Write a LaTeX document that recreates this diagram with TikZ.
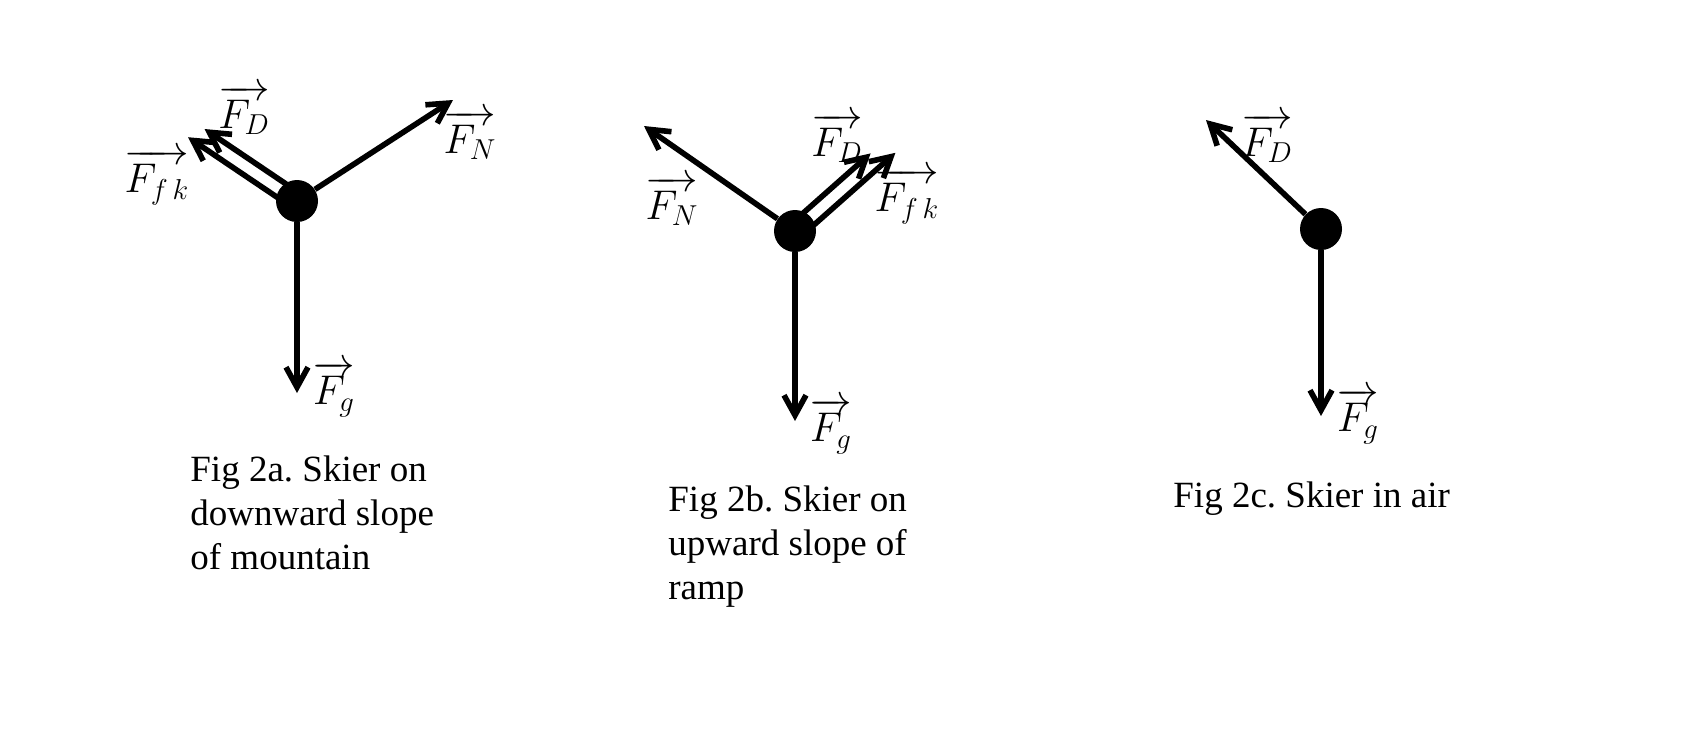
\documentclass[tikz,border=0pt]{standalone}
\usepackage{amsmath}
\usepackage{fontspec}
\newfontfamily\capfont{Liberation Serif}
\usetikzlibrary{arrows.meta}

\begin{document}
\begin{tikzpicture}[x=0.5pt,y=0.5pt,yscale=-1,
  force/.style={line width=2.8pt,-{Straight Barb[length=10pt,width=11pt]}},
  skier/.style={circle,fill=black,inner sep=0pt,minimum size=21pt},
  lbl/.style={inner sep=0pt,font=\huge},
  figcap/.style={anchor=base west,align=left,inner sep=0pt,font=\capfont\fontsize{18.5}{22}\selectfont\frenchspacing}]
\useasboundingbox (0,0) rectangle (1684,730);

% Fig 2a, downward slope
\node[skier] (dotA) at (297,201) {};
\coordinate (fgA) at (297,393);
\coordinate (fnA) at (453,100);
\coordinate (fdA0) at (301.5,194.4);
\coordinate (fdA) at (204.5,129);
\coordinate (ffkA0) at (292.5,207.6);
\coordinate (ffkA) at (188,137.2);
\node[lbl] (lfdA) at (244,110) {$\overrightarrow{F_D}$};
\node[lbl] (lffkA) at (157,177) {$\overrightarrow{F_{f\,k}}$};
\node[lbl] (lfnA) at (470,135) {$\overrightarrow{F_N}$};
\node[lbl] (lfgA) at (334,389) {$\overrightarrow{F_g}$};
\draw[force] (dotA) -- (fgA);
\draw[force] (dotA) -- (fnA);
\draw[force] (fdA0) -- (fdA);
\draw[force] (ffkA0) -- (ffkA);

% Fig 2b, upward slope
\node[skier] (dotB) at (795,231) {};
\coordinate (fgB) at (795,421);
\coordinate (fnB) at (644,126);
\coordinate (fdB0) at (789.7,225);
\coordinate (fdB) at (870.6,153.4);
\coordinate (ffkB0) at (800.3,237);
\coordinate (ffkB) at (895.4,152.8);
\node[lbl] (lfnB) at (672,201) {$\overrightarrow{F_N}$};
\node[lbl] (lfdB) at (837,138) {$\overrightarrow{F_D}$};
\node[lbl] (lffkB) at (907,196) {$\overrightarrow{F_{f\,k}}$};
\node[lbl] (lfgB) at (831,426) {$\overrightarrow{F_g}$};
\draw[force] (dotB) -- (fgB);
\draw[force] (dotB) -- (fnB);
\draw[force] (fdB0) -- (fdB);
\draw[force] (ffkB0) -- (ffkB);

% Fig 2c, in air
\node[skier] (dotC) at (1321,229) {};
\coordinate (fgC) at (1321,416);
\coordinate (fdC) at (1206,120);
\node[lbl] (lfdC) at (1267,138) {$\overrightarrow{F_D}$};
\node[lbl] (lfgC) at (1358,416) {$\overrightarrow{F_g}$};
\draw[force] (dotC) -- (fgC);
\draw[force] (dotC) -- (fdC);

% captions (base = last line)
\node[figcap] (capA) at (190,569) {Fig 2a. Skier on\\downward slope\\of mountain};
\node[figcap] (capB) at (668,599) {Fig 2b. Skier on\\upward slope of\\ramp};
\node[figcap] (capC) at (1173,507) {Fig 2c. Skier in air};
\end{tikzpicture}
\end{document}
